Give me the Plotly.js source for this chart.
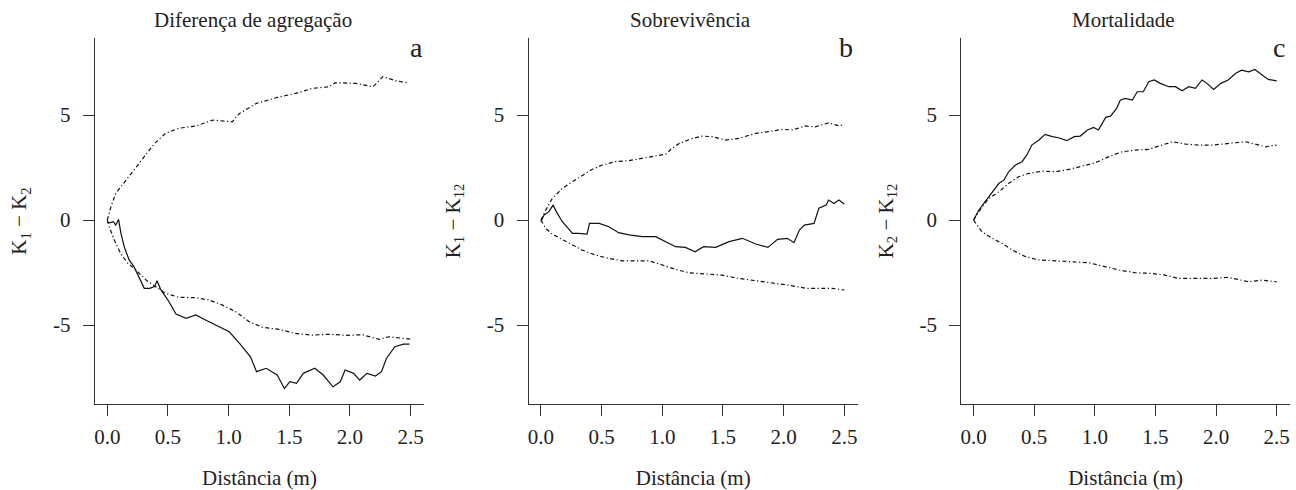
<!DOCTYPE html>
<html>
<head>
<meta charset="utf-8">
<script src="https://cdn.plot.ly/plotly-3.0.1.min.js"></script>
<style>html,body{margin:0;padding:0;background:#fff;}#chart{width:1296px;height:490px;}</style>
</head>
<body>
<div id="chart"></div>
<script>
// ---------- Panel titles, letters, axis titles ----------
const panelTitles = ["Diferença de agregação", "Sobrevivência", "Mortalidade"];
const panelLetters = ["a", "b", "c"];
const yTitles = ["K<sub>1</sub> − K<sub>2</sub>", "K<sub>1</sub> − K<sub>12</sub>", "K<sub>2</sub> − K<sub>12</sub>"];
const xTitle = "Distância (m)";
const xTickVals = [0, 0.5, 1.0, 1.5, 2.0, 2.5];
const xTickText = ["0.0", "0.5", "1.0", "1.5", "2.0", "2.5"];
const yTickVals = [-5, 0, 5];
const yTickText = ["-5", "0", "5"];

// ---------- Panel a: Diferença de agregação ----------
const aObsX = [0, 0.02, 0.05, 0.07, 0.093, 0.113, 0.14, 0.18, 0.22, 0.26, 0.305, 0.35, 0.39, 0.41, 0.44, 0.50, 0.566, 0.65, 0.73, 0.81, 0.92, 1.005, 1.09, 1.18, 1.23, 1.31, 1.40, 1.46, 1.505, 1.56, 1.615, 1.71, 1.78, 1.86, 1.92, 1.96, 2.03, 2.08, 2.14, 2.21, 2.26, 2.30, 2.37, 2.44, 2.49];
const aObsY = [-0.08, -0.13, -0.08, -0.24, 0.03, -0.63, -1.27, -1.90, -2.22, -2.70, -3.25, -3.25, -3.17, -2.89, -3.30, -3.81, -4.48, -4.68, -4.52, -4.76, -5.08, -5.32, -5.87, -6.51, -7.22, -7.06, -7.38, -8.02, -7.70, -7.78, -7.30, -7.06, -7.38, -7.94, -7.70, -7.14, -7.30, -7.62, -7.30, -7.43, -7.22, -6.59, -6.03, -5.91, -5.91];
const aUpX = [0, 0.03, 0.07, 0.154, 0.236, 0.32, 0.39, 0.48, 0.59, 0.73, 0.87, 1.03, 1.09, 1.23, 1.42, 1.55, 1.69, 1.83, 1.88, 2.05, 2.19, 2.27, 2.38, 2.475];
const aUpY = [0, 0.63, 1.27, 1.90, 2.54, 3.17, 3.65, 4.13, 4.37, 4.48, 4.76, 4.68, 5.08, 5.56, 5.87, 6.03, 6.27, 6.35, 6.54, 6.51, 6.35, 6.83, 6.63, 6.54];
const aLoX = [0, 0.016, 0.058, 0.11, 0.17, 0.236, 0.32, 0.40, 0.48, 0.59, 0.73, 0.84, 0.95, 1.06, 1.17, 1.28, 1.42, 1.55, 1.69, 1.83, 1.97, 2.10, 2.24, 2.32, 2.50];
const aLoY = [0, -0.32, -0.95, -1.59, -2.06, -2.38, -2.86, -3.17, -3.49, -3.68, -3.70, -3.81, -4.05, -4.37, -4.84, -5.11, -5.21, -5.40, -5.48, -5.44, -5.49, -5.46, -5.68, -5.56, -5.67];

// ---------- Panel b: Sobrevivência ----------
const bObsX = [0, 0.025, 0.066, 0.099, 0.135, 0.176, 0.217, 0.26, 0.31, 0.38, 0.40, 0.48, 0.56, 0.64, 0.725, 0.835, 0.945, 1.03, 1.11, 1.19, 1.27, 1.34, 1.44, 1.55, 1.66, 1.77, 1.87, 1.95, 2.03, 2.085, 2.13, 2.17, 2.25, 2.29, 2.35, 2.37, 2.415, 2.455, 2.50];
const bObsY = [-0.08, 0.24, 0.40, 0.71, 0.32, -0.08, -0.35, -0.63, -0.63, -0.67, -0.16, -0.16, -0.32, -0.60, -0.71, -0.79, -0.79, -1.03, -1.27, -1.30, -1.51, -1.27, -1.30, -1.03, -0.87, -1.14, -1.30, -0.92, -0.87, -1.08, -0.48, -0.24, -0.16, 0.56, 0.71, 0.95, 0.79, 0.95, 0.76];
const bUpX = [0, 0.04, 0.093, 0.176, 0.26, 0.34, 0.42, 0.505, 0.615, 0.725, 0.835, 0.945, 1.03, 1.07, 1.14, 1.25, 1.33, 1.41, 1.52, 1.63, 1.77, 1.88, 1.99, 2.07, 2.18, 2.26, 2.37, 2.46, 2.50];
const bUpY = [0, 0.48, 1.03, 1.51, 1.83, 2.10, 2.41, 2.62, 2.78, 2.83, 2.94, 3.05, 3.14, 3.37, 3.65, 3.89, 4.00, 3.97, 3.81, 3.89, 4.13, 4.21, 4.32, 4.29, 4.48, 4.44, 4.63, 4.48, 4.56];
const bLoX = [0, 0.04, 0.093, 0.176, 0.26, 0.34, 0.45, 0.56, 0.67, 0.78, 0.89, 1.0, 1.11, 1.22, 1.36, 1.49, 1.63, 1.77, 1.91, 2.04, 2.18, 2.32, 2.40, 2.50];
const bLoY = [0, -0.40, -0.67, -0.92, -1.19, -1.43, -1.67, -1.83, -1.94, -1.94, -1.94, -2.14, -2.35, -2.51, -2.57, -2.62, -2.78, -2.89, -2.98, -3.10, -3.25, -3.25, -3.25, -3.33];

// ---------- Panel c: Mortalidade ----------
const cObsX = [0, 0.044, 0.085, 0.126, 0.168, 0.21, 0.25, 0.29, 0.346, 0.40, 0.44, 0.48, 0.54, 0.59, 0.65, 0.70, 0.77, 0.83, 0.88, 0.94, 0.99, 1.03, 1.09, 1.13, 1.18, 1.21, 1.25, 1.31, 1.35, 1.40, 1.445, 1.49, 1.54, 1.61, 1.665, 1.72, 1.775, 1.83, 1.885, 1.925, 1.98, 2.04, 2.10, 2.16, 2.21, 2.27, 2.32, 2.38, 2.43, 2.50];
const cObsY = [0, 0.48, 0.79, 1.11, 1.43, 1.75, 1.90, 2.30, 2.62, 2.78, 3.10, 3.57, 3.81, 4.08, 3.97, 3.92, 3.78, 3.97, 4.00, 4.29, 4.41, 4.29, 4.89, 4.95, 5.32, 5.71, 5.79, 5.71, 6.11, 6.11, 6.59, 6.67, 6.51, 6.35, 6.35, 6.16, 6.35, 6.27, 6.67, 6.51, 6.22, 6.51, 6.67, 6.98, 7.14, 7.06, 7.17, 6.90, 6.70, 6.63];
const cUpX = [0, 0.07, 0.126, 0.21, 0.29, 0.37, 0.456, 0.566, 0.676, 0.786, 0.896, 1.005, 1.115, 1.225, 1.335, 1.445, 1.555, 1.64, 1.75, 1.86, 1.97, 2.10, 2.24, 2.32, 2.41, 2.50];
const cUpY = [0, 0.63, 1.03, 1.35, 1.75, 2.06, 2.22, 2.33, 2.30, 2.41, 2.57, 2.73, 3.02, 3.25, 3.33, 3.37, 3.57, 3.73, 3.62, 3.57, 3.57, 3.65, 3.73, 3.62, 3.49, 3.57];
const cLoX = [0, 0.07, 0.154, 0.236, 0.32, 0.43, 0.54, 0.676, 0.81, 0.95, 1.06, 1.20, 1.335, 1.47, 1.58, 1.69, 1.83, 1.97, 2.10, 2.19, 2.27, 2.38, 2.50];
const cLoY = [0, -0.56, -0.87, -1.11, -1.43, -1.75, -1.90, -1.95, -1.98, -2.03, -2.19, -2.38, -2.51, -2.54, -2.62, -2.78, -2.78, -2.78, -2.73, -2.83, -2.94, -2.86, -2.94];

// ---------- Build ----------
const W = 1296, H = 490;
const FONT = "'Liberation Serif', 'Times New Roman', serif";
const TXT = "#222";
const FS = 21;
const panels = [
  {obs: [aObsX, aObsY], up: [aUpX, aUpY], lo: [aLoX, aLoY], left: 95, right: 424},
  {obs: [bObsX, bObsY], up: [bUpX, bUpY], lo: [bLoX, bLoY], left: 528.7, right: 857.7},
  {obs: [cObsX, cObsY], up: [cUpX, cUpY], lo: [cLoX, cLoY], left: 961.3, right: 1290}
];
const solidLine = {color: "#111", width: 1.2};
const envLine = {color: "#111", width: 1.2, dash: "4px,2.5px,1.2px,2.5px"};

const traces = [];
const layout = {
  width: W, height: H,
  margin: {l: 0, r: 0, t: 0, b: 0},
  paper_bgcolor: "#fff", plot_bgcolor: "#fff",
  showlegend: false,
  font: {family: FONT, size: FS, color: TXT},
  annotations: []
};
const yTopPx = 38, yBotPx = 404;
const letterX = [416, 846, 1279];
const titleX = [253, 690, 1123];

panels.forEach((p, i) => {
  const n = i === 0 ? "" : String(i + 1);
  const xa = "x" + n, ya = "y" + n;
  traces.push({type: "scatter", mode: "lines", x: p.up[0], y: p.up[1], xaxis: xa, yaxis: ya, line: envLine, hoverinfo: "skip"});
  traces.push({type: "scatter", mode: "lines", x: p.lo[0], y: p.lo[1], xaxis: xa, yaxis: ya, line: envLine, hoverinfo: "skip"});
  traces.push({type: "scatter", mode: "lines", x: p.obs[0], y: p.obs[1], xaxis: xa, yaxis: ya, line: solidLine, hoverinfo: "skip"});
  const axCommon = {
    showgrid: false, zeroline: false, showline: true, linecolor: "#333", linewidth: 1.4,
    ticks: "outside", ticklen: 11, tickwidth: 1.4, tickcolor: "#333", mirror: false,
    tickfont: {family: FONT, size: FS, color: TXT}, tickmode: "array", fixedrange: true
  };
  layout["xaxis" + n] = Object.assign({}, axCommon, {
    domain: [p.left / W, p.right / W], anchor: ya, range: [-0.101, 2.61],
    tickvals: xTickVals, ticktext: xTickText, ticklabelstandoff: 3,
    title: {text: xTitle, font: {family: FONT, size: FS, color: TXT}, standoff: 22}
  });
  layout["yaxis" + n] = Object.assign({}, axCommon, {
    domain: [1 - yBotPx / H, 1 - yTopPx / H], anchor: xa, range: [-8.76, 8.67],
    tickvals: yTickVals, ticktext: yTickText, ticklabelstandoff: 8,
    title: {text: yTitles[i], font: {family: FONT, size: FS, color: TXT}, standoff: 20}
  });
  layout.annotations.push({
    xref: "paper", yref: "paper", x: titleX[i] / W, y: 1 - 20 / H, text: panelTitles[i],
    showarrow: false, xanchor: "center", yanchor: "middle", font: {family: FONT, size: FS, color: TXT}
  });
  layout.annotations.push({
    xref: "paper", yref: "paper", x: letterX[i] / W, y: 1 - 47 / H, text: panelLetters[i],
    showarrow: false, xanchor: "center", yanchor: "middle", font: {family: FONT, size: 28, color: TXT}
  });
});

Plotly.newPlot("chart", traces, layout, {displayModeBar: false});
</script>
</body>
</html>
